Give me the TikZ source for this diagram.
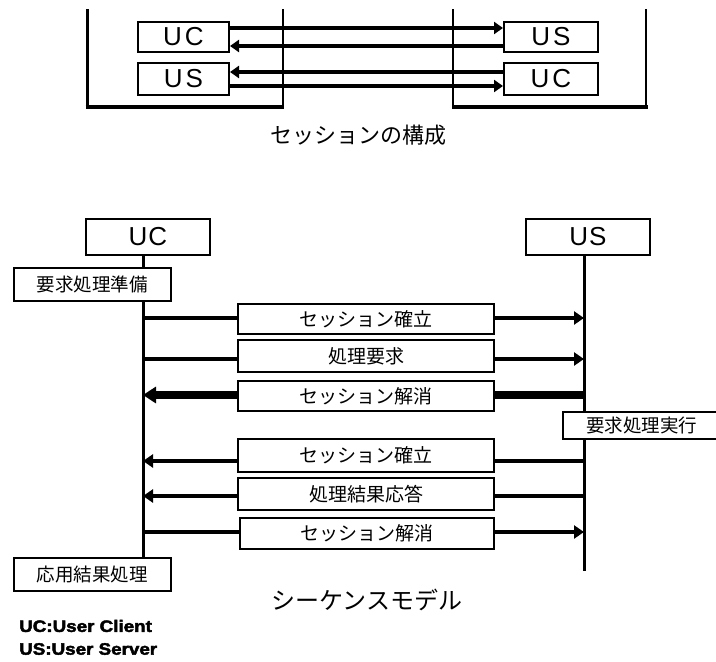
\documentclass[tikz,border=0pt]{standalone}
\usepackage{fontspec}
\setmainfont{Liberation Sans}
\newfontfamily\jp{Noto Sans CJK JP}
\newfontfamily\heavy[BoldFeatures={FakeBold=2.5}]{Liberation Sans}
\usetikzlibrary{arrows.meta}
\tikzset{
  lbox/.style={draw, fill=white, line width=2pt, inner sep=0pt},
  sbox/.style={lbox, font=\fontsize{26}{26}\selectfont},
  jbox/.style={lbox, font=\jp\fontsize{18.5}{19}\selectfont},
  msgbox/.style={lbox, font=\jp\fontsize{19}{19}\selectfont, minimum width=256pt},
  life/.style={line width=3pt},
  msg/.style={line width=4.5pt},
  msgthick/.style={line width=8pt},
  tipa/.style={-{Triangle[length=10pt,width=13pt]}},
  tipb/.style={-{Triangle[length=13pt,width=16pt]}},
  toparrow/.style={line width=3.5pt, -{Triangle[length=9pt,width=12pt]}},
  cont/.style={line width=4pt},
  contthin/.style={line width=1.6pt},
  caption/.style={font=\jp\fontsize{22}{22}\selectfont, inner sep=0pt},
  legend/.style={anchor=west, inner sep=0pt, font=\heavy\bfseries\fontsize{16.5}{17}\selectfont},
}
\begin{document}
\begin{tikzpicture}[x=1pt,y=-1pt]
\useasboundingbox (0,0) rectangle (716,662);

% ---------- top: session structure ----------
\draw[line width=3pt] (87,9) -- (87,107);
\draw[cont] (85.5,107) -- (283,107);
\draw[contthin] (283,9) -- (283,109);
\draw[contthin] (453,9) -- (453,109);
\draw[cont] (453,107) -- (647.5,107);
\draw[line width=2.5pt] (646,9) -- (646,107);

\node[sbox, minimum width=91pt, minimum height=30pt] (ucA) at (183.5,37) {U\hspace{3pt}C};
\node[sbox, minimum width=91pt, minimum height=32pt] (usA) at (183.5,79) {U\hspace{3pt}S};
\node[sbox, minimum width=94pt, minimum height=30pt] (usB) at (551,37) {U\hspace{3pt}S};
\node[sbox, minimum width=94pt, minimum height=32pt] (ucB) at (551,79) {U\hspace{3pt}C};

\draw[toparrow] ([yshift=9pt]ucA.east) -- ([yshift=9pt]usB.west);
\draw[toparrow] ([yshift=-9pt]usB.west) -- ([yshift=-9pt]ucA.east);
\draw[toparrow] ([yshift=7pt]ucB.west) -- ([yshift=7pt]usA.east);
\draw[toparrow] ([yshift=-7pt]usA.east) -- ([yshift=-7pt]ucB.west);

\node[caption] (cap1) at (358,135) {セッションの構成};

% ---------- sequence model ----------
\node[sbox, line width=2.6pt, minimum width=124pt, minimum height=36pt] (uc) at (148,237) {U\hspace{1pt}C};
\node[sbox, line width=2.6pt, minimum width=124pt, minimum height=36pt] (us) at (588,237) {U\hspace{1pt}S};

\coordinate (ucx) at (143,0);
\coordinate (usx) at (584,0);
\coordinate (usEnd) at (584,571);

\node[jbox, minimum width=157pt, minimum height=33pt] (prep) at (92.5,284.5) {要求処理準備};
\node[jbox, minimum width=157pt, minimum height=33pt] (app) at (92.5,574.5) {応用結果処理};

% lifelines (behind the boxes)
\draw[life] (uc.south -| ucx) -- (prep.north -| ucx);
\draw[life] (prep.south -| ucx) -- (app.north -| ucx);
\draw[life] (us.south -| usx) -- (usEnd);

\node[jbox, minimum width=157pt, minimum height=27pt] (exec) at (641.5,425.5) {要求処理実行};

% message boxes
\node[msgbox, minimum height=30pt] (m1) at (366,319) {セッション確立};
\node[msgbox, minimum height=32pt] (m2) at (366,356) {処理要求};
\node[msgbox, minimum height=30pt] (m3) at (366,396) {セッション解消};
\node[msgbox, minimum height=33pt] (m4) at (366,455.5) {セッション確立};
\node[msgbox, minimum height=32pt] (m5) at (366,494) {処理結果応答};
\node[msgbox, minimum height=31pt, minimum width=254pt] (m6) at (367,533.5) {セッション解消};

% lifeline anchor points for messages
\coordinate (a1) at (0,318); \coordinate (a2) at (0,359); \coordinate (a3) at (0,395);
\coordinate (a4) at (0,461); \coordinate (a5) at (0,496); \coordinate (a6) at (0,532);

% 1: UC -> US
\draw[msg] (a1 -| ucx) -- (a1 -| m1.west);
\draw[msg, tipa] (a1 -| m1.east) -- (a1 -| usx);
% 2: UC -> US
\draw[msg] (a2 -| ucx) -- (a2 -| m2.west);
\draw[msg, tipa] (a2 -| m2.east) -- (a2 -| usx);
% 3: US -> UC (thick)
\draw[msgthick] (a3 -| usx) -- (a3 -| m3.east);
\draw[msgthick, tipb] (a3 -| m3.west) -- (a3 -| ucx);
% 4: US -> UC
\draw[msg] (a4 -| usx) -- (a4 -| m4.east);
\draw[msg, tipa] (a4 -| m4.west) -- (a4 -| ucx);
% 5: US -> UC
\draw[msg] (a5 -| usx) -- (a5 -| m5.east);
\draw[msg, tipa] (a5 -| m5.west) -- (a5 -| ucx);
% 6: UC -> US
\draw[msg] (a6 -| ucx) -- (a6 -| m6.west);
\draw[msg, tipa] (a6 -| m6.east) -- (a6 -| usx);

\node[caption, font=\jp\fontsize{24}{24}\selectfont] (cap2) at (367,600) {シーケンスモデル};

% legend
\node[legend] (leg1) at (19,626) {\scalebox{1.14}[1]{UC:User Client}};
\node[legend] (leg2) at (19,649) {\scalebox{1.14}[1]{US:User Server}};
\end{tikzpicture}
\end{document}
